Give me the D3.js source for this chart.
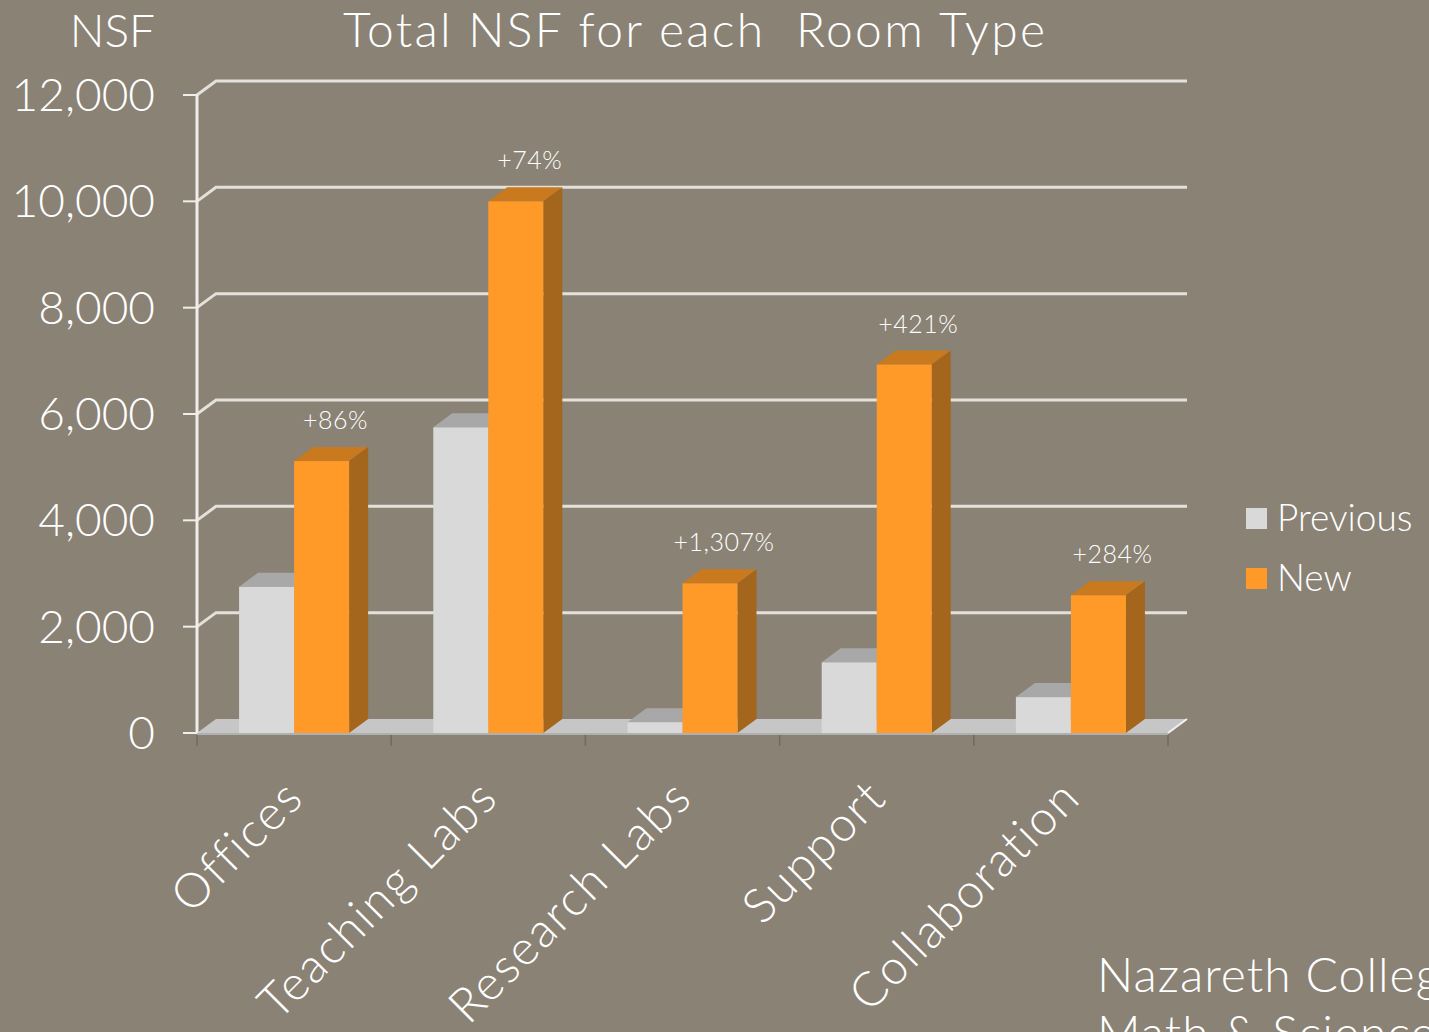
<!DOCTYPE html>
<html>
<head>
<meta charset="utf-8">
<script src="https://cdn.jsdelivr.net/npm/d3@7"></script>
<style>
  html, body { margin: 0; padding: 0; background: #8a8275; overflow: hidden; }
  svg { display: block; font-family: Lato, "Open Sans", sans-serif; font-weight: 300; }
</style>
</head>
<body>
<div id="chart"></div>
<script>
// data
const categories = ["Offices", "Teaching Labs", "Research Labs", "Support", "Collaboration"];
const series = ["Previous", "New"];
const previousValues = [2750, 5750, 200, 1330, 675];
const newValues = [5115, 10000, 2815, 6930, 2590];
const changeLabels = ["+86%", "+74%", "+1,307%", "+421%", "+284%"];
const yTicks = [0, 2000, 4000, 6000, 8000, 10000, 12000];

const W = 1429, H = 1032;
const colors = {
  bg: "#8a8275",
  grid: "#e4e0da",
  floor: "#c6c6c6",
  prevFront: "#d9d9d9",
  prevTop: "#a8a8a8",
  newFront: "#ff9a28",
  newTop: "#c97a1e",
  newSide: "#a4651c"
};
// 3d depth offset
const dx = 19, dy = -14;

const svg = d3.select("#chart").append("svg")
  .attr("width", W)
  .attr("height", H);

svg.append("rect").attr("width", W).attr("height", H).attr("fill", colors.bg);

const y = d3.scaleLinear().domain([0, 12000]).range([733, 95]);
const x0 = d3.scaleBand().domain(categories).range([197, 1168]);
const x1 = d3.scaleBand().domain(series).range([0, x0.bandwidth()]).paddingOuter(0.765).paddingInner(0);

const rows = categories.map((c, i) => ({
  cat: c,
  values: [previousValues[i], newValues[i]],
  label: changeLabels[i]
}));

// back wall gridlines + left wall connectors
const grid = svg.append("g");
yTicks.filter(t => t > 0).forEach(t => {
  const yf = y(t);
  grid.append("path")
    .attr("d", `M${x0.range()[0]},${yf} L${x0.range()[0] + dx},${yf + dy} L${x0.range()[1] + dx},${yf + dy}`)
    .attr("fill", "none")
    .attr("stroke", colors.grid)
    .attr("stroke-width", 3);
});

// floor
const fx0 = x0.range()[0], fx1 = x0.range()[1], fy = y(0);
svg.append("path")
  .attr("d", `M${fx0},${fy} L${fx0 + dx},${fy + dy} L${fx1 + dx},${fy + dy} L${fx1},${fy} Z`)
  .attr("fill", colors.floor);
svg.append("line")
  .attr("x1", fx1).attr("y1", fy).attr("x2", fx1 + dx).attr("y2", fy + dy)
  .attr("stroke", "#f2f2f2").attr("stroke-width", 2);
svg.append("line")
  .attr("x1", fx0).attr("x2", fx1).attr("y1", fy + 1).attr("y2", fy + 1)
  .attr("stroke", "#b0b0b0").attr("stroke-width", 2);

// y axis (front)
const yAxis = svg.append("g");
yAxis.append("line")
  .attr("x1", 197).attr("x2", 197).attr("y1", y(12000)).attr("y2", y(0))
  .attr("stroke", "#f0eeea").attr("stroke-width", 3);
yAxis.selectAll("line.tick").data(yTicks).join("line")
  .attr("class", "tick")
  .attr("x1", 183).attr("x2", 197)
  .attr("y1", d => y(d)).attr("y2", d => y(d))
  .attr("stroke", "#f0eeea").attr("stroke-width", 2);
yAxis.selectAll("text").data(yTicks).join("text")
  .attr("x", 155)
  .attr("y", d => y(d))
  .attr("dy", "0.35em")
  .attr("text-anchor", "end")
  .attr("fill", "#fff")
  .attr("font-size", 46)
  .text(d3.format(","));

// category ticks under the floor
svg.append("g").selectAll("line")
  .data(categories.concat(["_end"]))
  .join("line")
  .attr("x1", d => d === "_end" ? fx1 : x0(d))
  .attr("x2", d => d === "_end" ? fx1 : x0(d))
  .attr("y1", fy + 2).attr("y2", fy + 13)
  .attr("stroke", "#6f6a62").attr("stroke-width", 1.5);

// bars
const barW = x1.bandwidth();
function drawBar(g, xl, v, front, top, side) {
  const yt = y(v), yb = y(0), xr = xl + barW;
  g.append("path")
    .attr("d", `M${xl},${yt} L${xl + dx},${yt + dy} L${xr + dx},${yt + dy} L${xr},${yt} Z`)
    .attr("fill", top);
  if (side) {
    g.append("path")
      .attr("d", `M${xr},${yt} L${xr + dx},${yt + dy} L${xr + dx},${yb + dy} L${xr},${yb} Z`)
      .attr("fill", side);
  }
  g.append("rect")
    .attr("x", xl).attr("y", yt)
    .attr("width", barW).attr("height", yb - yt)
    .attr("fill", front);
}

const bars = svg.append("g");
rows.forEach(r => {
  const g = bars.append("g");
  drawBar(g, x0(r.cat) + x1("Previous"), r.values[0], colors.prevFront, colors.prevTop, "#b8b8b8");
  drawBar(g, x0(r.cat) + x1("New"), r.values[1], colors.newFront, colors.newTop, colors.newSide);
});

// change labels above the orange bars
svg.append("g").selectAll("text").data(rows).join("text")
  .attr("x", d => x0(d.cat) + x1("New") + barW / 2 + 14)
  .attr("y", d => y(d.values[1]) + dy - 18)
  .attr("text-anchor", "middle")
  .attr("fill", "#fff")
  .attr("font-size", 25)
  .attr("letter-spacing", 0.5)
  .text(d => d.label);

// rotated category labels
svg.append("g").selectAll("text").data(categories).join("text")
  .attr("transform", d => `translate(${x0(d) + x0.bandwidth() / 2 + 12},${800}) rotate(-45)`)
  .attr("text-anchor", "end")
  .attr("fill", "#fff")
  .attr("font-size", 48)
  .attr("letter-spacing", 2)
  .text(d => d);

// titles
svg.append("text")
  .attr("x", 343).attr("y", 47)
  .attr("fill", "#fff")
  .attr("font-size", 48)
  .attr("xml:space", "preserve")
  .attr("textLength", 702)
  .attr("lengthAdjust", "spacing")
  .text("Total NSF for each  Room Type");

svg.append("text")
  .attr("x", 155).attr("y", 47)
  .attr("text-anchor", "end")
  .attr("fill", "#fff")
  .attr("font-size", 46)
  .text("NSF");

// legend
const legend = svg.append("g").attr("transform", "translate(1246,508)");
series.forEach((s, i) => {
  legend.append("rect")
    .attr("x", 0).attr("y", i * 60)
    .attr("width", 21).attr("height", 21)
    .attr("fill", i === 0 ? colors.prevFront : colors.newFront);
  legend.append("text")
    .attr("x", 31).attr("y", i * 60 + 23)
    .attr("fill", "#fff")
    .attr("font-size", 37)
    .text(s);
});

// footer text, runs off the page
const foot = svg.append("text").attr("fill", "#fff").attr("font-size", 48).attr("letter-spacing", 1);
foot.append("tspan").attr("x", 1097).attr("y", 992).text("Nazareth College");
foot.append("tspan").attr("x", 1097).attr("y", 1050).text("Math & Science Center");
</script>
</body>
</html>
